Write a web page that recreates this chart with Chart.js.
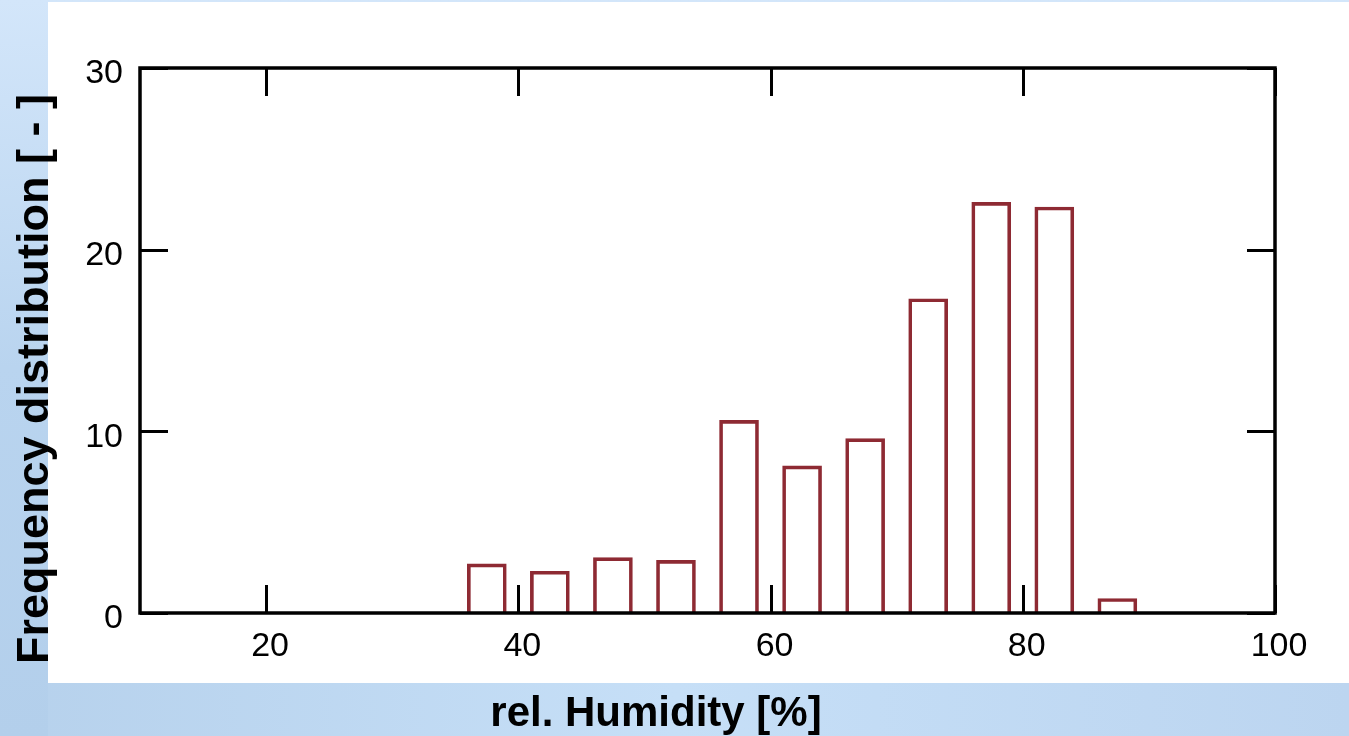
<!DOCTYPE html>
<html>
<head>
<meta charset="utf-8">
<script src="https://cdn.jsdelivr.net/npm/chart.js@4/dist/chart.umd.min.js"></script>
<style>
  html, body { margin: 0; padding: 0; background: #c6def6; }
  #wrap { width: 1349px; height: 736px; }
</style>
</head>
<body>
<div id="wrap"><canvas id="chart" width="1349" height="736"></canvas></div>
<script>
// histogram bins (centre of each 5 % class) and their counts
const binCenters = [37.5, 42.5, 47.5, 52.5, 57.5, 62.5, 67.5, 72.5, 77.5, 82.5, 87.5];
const frequencies = [2.7, 2.3, 3.05, 2.9, 10.6, 8.1, 9.6, 17.3, 22.6, 22.35, 0.8];
const xTickValues = [20, 40, 60, 80, 100];
const yTickValues = [0, 10, 20, 30];
const xTitle = 'rel. Humidity [%]';
const yTitle = 'Frequency distribution [ - ]';

const frame = {
  id: 'frame',
  beforeDraw(chart) {
    const ctx = chart.ctx;
    const W = chart.width, H = chart.height;
    ctx.save();
    const g = ctx.createLinearGradient(0, 0, 0, H);
    g.addColorStop(0, '#d3e6fa');
    g.addColorStop(0.5, '#b9d4ef');
    g.addColorStop(1, '#b3cfeb');
    ctx.fillStyle = g;
    ctx.fillRect(0, 0, W, H);
    const g2 = ctx.createLinearGradient(0, 0, W, 0);
    g2.addColorStop(0, '#b6d1ec');
    g2.addColorStop(0.5, '#c6dff7');
    g2.addColorStop(1, '#bcd5f0');
    ctx.fillStyle = g2;
    ctx.fillRect(48, 683, W - 48, H - 683);
    ctx.fillStyle = '#ffffff';
    ctx.fillRect(48, 2, W - 48, 681);
    ctx.restore();
  },
  afterDatasetsDraw(chart) {
    const {ctx, chartArea: a, scales: {x, y}} = chart;
    const len = 28;
    ctx.save();
    ctx.strokeStyle = '#000';
    ctx.lineWidth = 3;
    ctx.beginPath();
    x.ticks.forEach(t => {
      const px = Math.round(x.getPixelForValue(t.value)) + 0.5;
      ctx.moveTo(px, a.top); ctx.lineTo(px, a.top + len);
      ctx.moveTo(px, a.bottom); ctx.lineTo(px, a.bottom - len);
    });
    y.ticks.forEach(t => {
      const py = Math.round(y.getPixelForValue(t.value)) + 0.5;
      ctx.moveTo(a.left, py); ctx.lineTo(a.left + len, py);
      ctx.moveTo(a.right, py); ctx.lineTo(a.right - len, py);
    });
    ctx.stroke();
    ctx.lineWidth = 3.5;
    ctx.strokeRect(a.left, a.top, a.right - a.left, a.bottom - a.top);

    // axis titles
    ctx.fillStyle = '#000';
    ctx.textAlign = 'center';
    ctx.textBaseline = 'alphabetic';
    ctx.font = 'bold 42px "Liberation Sans", Arial, sans-serif';
    ctx.fillText(xTitle, 656, 726);
    ctx.translate(48, 379);
    ctx.rotate(-Math.PI / 2);
    ctx.font = 'bold 45px "Liberation Sans", Arial, sans-serif';
    ctx.fillText(yTitle, 0, 0);
    ctx.restore();
  }
};

new Chart(document.getElementById('chart'), {
  type: 'bar',
  data: {
    datasets: [{
      data: binCenters.map((c, i) => ({x: c, y: frequencies[i]})),
      backgroundColor: 'rgba(255,255,255,0)',
      borderColor: '#8e2a33',
      borderWidth: 3,
      borderSkipped: 'bottom',
      barThickness: 39
    }]
  },
  options: {
    responsive: false,
    animation: false,
    layout: { padding: { top: 68, right: 74, left: 0, bottom: 0 } },
    plugins: { legend: { display: false }, tooltip: { enabled: false } },
    scales: {
      x: {
        type: 'linear',
        min: 10,
        max: 100,
        offset: false,
        grid: { display: false, drawTicks: false },
        border: { display: false },
        afterBuildTicks: s => { s.ticks = xTickValues.map(v => ({value: v})); },
        afterFit: s => { s.height = 736 - 613; },
        ticks: {
          color: '#000',
          font: { family: 'Liberation Sans, Arial, sans-serif', size: 34 },
          padding: 13,
          labelOffset: 4,
          maxRotation: 0,
          autoSkip: false
        }
      },
      y: {
        min: 0,
        max: 30,
        grid: { display: false, drawTicks: false },
        border: { display: false },
        afterBuildTicks: s => { s.ticks = yTickValues.map(v => ({value: v})); },
        afterFit: s => { s.width = 140; },
        ticks: {
          color: '#000',
          font: { family: 'Liberation Sans, Arial, sans-serif', size: 34 },
          padding: 17,
          labelOffset: 6
        }
      }
    }
  },
  plugins: [frame]
});
</script>
</body>
</html>
